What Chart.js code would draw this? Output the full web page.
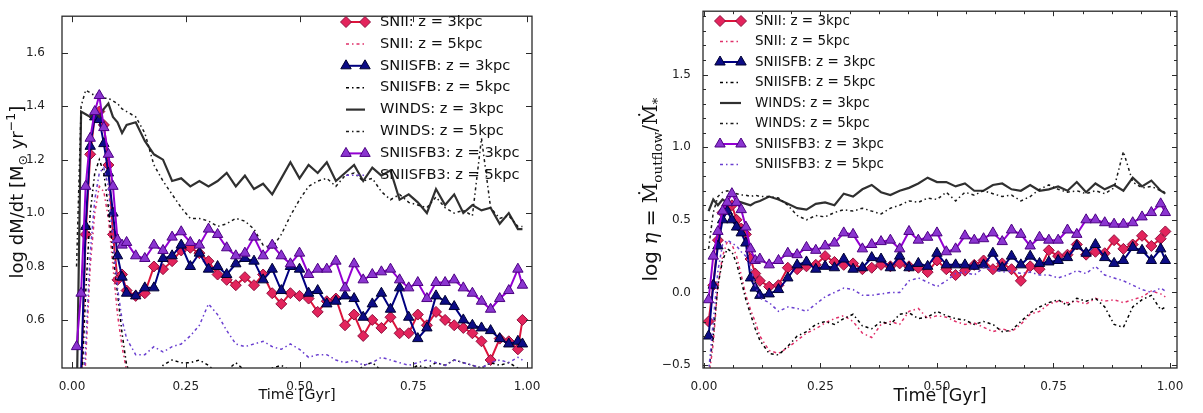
<!DOCTYPE html>
<html>
<head>
<meta charset="utf-8">
<script src="https://cdn.jsdelivr.net/npm/chart.js@4.4.0/dist/chart.umd.min.js"></script>
<style>
  html, body { margin: 0; padding: 0; background: #fff; }
  #wrap { position: relative; width: 1203px; height: 413px; }
  canvas { position: absolute; top: 0; }
  #massChart { left: 0; width: 601px; height: 413px; }
  #etaChart { left: 601px; width: 602px; height: 413px; }
</style>
</head>
<body>
<div id="wrap">
  <canvas id="massChart" width="601" height="413"></canvas>
  <canvas id="etaChart" width="602" height="413"></canvas>
</div>
<script>
// sample times (Gyr), shared by every series
const timeGyr = [0.01,0.02,0.03,0.04,0.05,0.06,0.07,0.08,0.09,0.10,0.11,0.12,
  0.14,0.16,0.18,0.20,0.22,0.24,0.26,0.28,0.30,0.32,0.34,0.36,0.38,0.40,0.42,0.44,0.46,0.48,
  0.50,0.52,0.54,0.56,0.58,0.60,0.62,0.64,0.66,0.68,0.70,0.72,0.74,0.76,0.78,0.80,0.82,0.84,
  0.86,0.88,0.90,0.92,0.94,0.96,0.98,0.99];

const seriesLabels = ['SNII: z = 3kpc', 'SNII: z = 5kpc', 'SNIISFB: z = 3kpc', 'SNIISFB: z = 5kpc',
  'WINDS: z = 3kpc', 'WINDS: z = 5kpc', 'SNIISFB3: z = 3kpc', 'SNIISFB3: z = 5kpc'];

// left panel: log dM/dt
const massSNII3 = [0.20,0.35,0.92,1.22,1.36,1.38,1.33,1.18,0.92,0.75,0.77,0.71,
  0.69,0.70,0.80,0.79,0.82,0.86,0.87,0.85,0.82,0.77, 0.75,0.73,0.76,0.73,0.77,0.70,0.66,0.70,0.69,0.68,
  0.63,0.67,0.68,0.58,0.62,0.54,0.60,0.57,0.61,0.55, 0.55,0.62,0.58,0.63,0.60,0.58,0.57,0.55,0.52,0.45,
  0.53,0.52,0.49, 0.60];
const massSNII5 = [-0.20,0.10,0.45,0.80,1.00,1.10,1.08,0.98,0.80,0.62,0.50,0.41,
  0.36,0.34,0.35,0.38,0.37,0.40,0.38,0.36,0.35,0.33, 0.34,0.36,0.35,0.33,0.34,0.37,0.36,0.35,0.37,0.36,
  0.34,0.33,0.35,0.34,0.32,0.33,0.35,0.37,0.38,0.39, 0.40,0.38,0.39,0.41,0.40,0.39,0.40,0.38,0.39,0.40,
  0.41,0.39,0.38, 0.38];
const massSNIISFB3 = [0.20,0.40,0.95,1.25,1.36,1.35,1.26,1.15,1.00,0.84,0.76,0.70,
  0.69,0.72,0.72,0.83,0.84,0.88,0.80,0.85,0.79,0.80, 0.77,0.81,0.83,0.82,0.75,0.79,0.71,0.80,0.79,0.70,
  0.71,0.66,0.67,0.69,0.68,0.61,0.66,0.70,0.64,0.72, 0.61,0.53,0.57,0.69,0.67,0.65,0.60,0.58,0.57,0.56,
  0.53,0.51,0.52, 0.51];
const massSNIISFB5 = [0.00,0.30,0.70,1.00,1.15,1.20,1.15,1.02,0.85,0.70,0.55,0.43,
  0.37,0.39,0.38,0.43,0.45,0.44,0.44,0.45,0.43,0.40, 0.41,0.44,0.41,0.39,0.40,0.42,0.43,0.41,0.40,0.38,
  0.39,0.41,0.40,0.38,0.39,0.43,0.44,0.41,0.40,0.42, 0.41,0.43,0.42,0.44,0.43,0.45,0.44,0.43,0.42,0.44,
  0.43,0.44,0.42, 0.41];
const massWinds3 = [0.25,1.38,1.37,1.36,1.38,1.36,1.39,1.41,1.36,1.34,1.30,1.33,
  1.34,1.27,1.22,1.20,1.12,1.13,1.10,1.12,1.10,1.12, 1.15,1.10,1.14,1.09,1.11,1.07,1.13,1.19,1.13,1.18,
  1.15,1.19,1.12,1.15,1.18,1.12,1.17,1.14,1.16,1.05, 1.07,1.04,1.00,1.09,1.03,1.07,1.00,1.03,1.01,1.02,
  0.96,1.00,0.94, 0.94];
const massWinds5 = [0.80,1.40,1.46,1.45,1.44,1.45,1.43,1.43,1.42,1.41,1.39,1.38,
  1.36,1.30,1.18,1.12,1.07,1.02,0.98,0.98,0.97,0.95, 0.96,0.98,0.97,0.94,0.88,0.87,0.92,0.99,1.05,1.10,
  1.12,1.13,1.10,1.14,1.15,1.12,1.13,1.08,1.05,1.07, 1.04,1.03,1.02,1.06,1.02,1.00,1.01,0.99,1.28,1.02,
  0.98,0.99,0.95, 0.95];
const massSNIISFB3x3 = [0.50,0.70,1.10,1.28,1.38,1.44,1.32,1.22,1.10,0.90,0.88,0.89,
  0.84,0.83,0.88,0.86,0.91,0.93,0.89,0.88,0.94,0.92, 0.87,0.84,0.85,0.91,0.84,0.88,0.84,0.81,0.85,0.77,
  0.79,0.79,0.82,0.72,0.81,0.75,0.77,0.78,0.79,0.75, 0.72,0.74,0.68,0.74,0.74,0.75,0.72,0.70,0.67,0.64,
  0.68,0.71,0.79, 0.73];
const massSNIISFB3x5 = [0.00,0.20,0.50,0.85,1.05,1.15,1.17,1.10,0.90,0.72,0.60,0.53,
  0.47,0.47,0.50,0.48,0.50,0.51,0.54,0.58,0.66,0.62, 0.56,0.51,0.50,0.51,0.52,0.50,0.49,0.51,0.49,0.46,
  0.47,0.47,0.45,0.44,0.45,0.43,0.44,0.46,0.45,0.44, 0.43,0.44,0.45,0.44,0.43,0.45,0.44,0.43,0.42,0.44,
  0.45,0.44,0.46, 0.45];

// right panel: log eta
const etaSNII3 = [-0.20,0.05,0.36,0.55,0.60,0.60,0.50,0.44,0.40,0.23,0.13,0.08,
  0.04,0.05,0.17,0.16,0.18,0.19,0.25,0.21,0.19,0.20, 0.16,0.17,0.19,0.18,0.20,0.18,0.17,0.14,0.22,0.16,
  0.12,0.15,0.19,0.22,0.16,0.20,0.16,0.08,0.18,0.16, 0.29,0.25,0.26,0.33,0.26,0.28,0.27,0.36,0.30,0.33,
  0.39,0.32,0.37, 0.42];
const etaSNII5 = [-0.60,-0.35,0.05,0.25,0.35,0.33,0.25,0.12,-0.02,-0.12,-0.20,-0.30,
  -0.40,-0.42,-0.38,-0.33,-0.28,-0.25,-0.21,-0.18,-0.16,-0.20, -0.28,-0.31,-0.22,-0.20,-0.22,-0.13,-0.11,-0.18,-0.16,-0.17,
  -0.20,-0.22,-0.21,-0.24,-0.27,-0.25,-0.27,-0.22,-0.15,-0.13, -0.08,-0.06,-0.07,-0.06,-0.08,-0.04,-0.06,-0.05,-0.07,-0.05,
  -0.03,0.01,-0.01, -0.03];
const etaSNIISFB3 = [-0.30,0.05,0.32,0.50,0.56,0.50,0.45,0.41,0.34,0.10,0.03,-0.02,
  -0.01,0.02,0.10,0.19,0.21,0.16,0.18,0.17,0.23,0.16, 0.17,0.24,0.23,0.17,0.25,0.17,0.20,0.18,0.27,0.19,
  0.19,0.19,0.18,0.19,0.27,0.17,0.25,0.19,0.25,0.20, 0.21,0.22,0.24,0.32,0.27,0.33,0.24,0.20,0.22,0.31,
  0.29,0.22,0.30, 0.22];
const etaSNIISFB5 = [-0.55,-0.30,0.05,0.22,0.30,0.28,0.20,0.08,-0.05,-0.15,-0.25,-0.33,
  -0.42,-0.43,-0.37,-0.30,-0.27,-0.22,-0.20,-0.22,-0.18,-0.15, -0.23,-0.25,-0.20,-0.22,-0.15,-0.14,-0.18,-0.17,-0.13,-0.16,
  -0.18,-0.19,-0.22,-0.20,-0.22,-0.27,-0.26,-0.20,-0.14,-0.10, -0.07,-0.05,-0.09,-0.04,-0.06,-0.04,-0.10,-0.22,-0.24,-0.10,
  -0.05,-0.02,-0.12, -0.10];
const etaWinds3 = [0.56,0.64,0.60,0.64,0.62,0.60,0.63,0.62,0.61,0.60,0.62,0.63,
  0.66,0.64,0.61,0.58,0.57,0.61,0.62,0.60,0.68,0.66, 0.71,0.74,0.69,0.67,0.70,0.72,0.75,0.79,0.76,0.76,
  0.73,0.75,0.70,0.70,0.74,0.75,0.71,0.70,0.74,0.70, 0.71,0.73,0.70,0.76,0.69,0.75,0.71,0.74,0.70,0.79,
  0.73,0.77,0.70, 0.68];
const etaWinds5 = [0.30,0.55,0.66,0.69,0.70,0.69,0.68,0.67,0.67,0.66,0.67,0.66,
  0.66,0.65,0.60,0.53,0.50,0.53,0.52,0.55,0.57,0.56, 0.58,0.56,0.54,0.58,0.60,0.63,0.62,0.65,0.64,0.69,
  0.63,0.69,0.67,0.70,0.68,0.66,0.67,0.63,0.66,0.71, 0.74,0.71,0.69,0.70,0.68,0.70,0.68,0.72,0.97,0.76,
  0.72,0.73,0.70, 0.69];
const etaSNIISFB3x3 = [-0.05,0.25,0.42,0.56,0.62,0.68,0.62,0.57,0.45,0.30,0.22,0.23,
  0.19,0.22,0.27,0.26,0.31,0.29,0.32,0.34,0.41,0.40, 0.30,0.33,0.35,0.36,0.30,0.42,0.36,0.38,0.41,0.28,
  0.30,0.39,0.36,0.37,0.41,0.35,0.43,0.40,0.32,0.38, 0.36,0.36,0.43,0.40,0.50,0.50,0.48,0.47,0.47,0.48,
  0.52,0.55,0.61, 0.55];
const etaSNIISFB3x5 = [-0.55,-0.20,0.15,0.33,0.36,0.34,0.32,0.28,0.25,0.18,0.05,-0.04,
  -0.07,-0.13,-0.10,-0.11,-0.13,-0.08,-0.03,0.00,0.03,0.02, -0.02,-0.02,-0.01,0.00,0.00,0.08,0.10,0.07,0.04,0.08,
  0.13,0.14,0.12,0.17,0.16,0.14,0.15,0.13,0.14,0.12, 0.12,0.10,0.12,0.15,0.13,0.18,0.12,0.10,0.08,0.05,
  0.02,0.00,0.03, 0.01];

// ticks
const timeTicks = [0, 0.25, 0.5, 0.75, 1.0];
const massTicks = [0.6, 0.8, 1.0, 1.2, 1.4, 1.6];
const etaTicks = [-0.5, 0, 0.5, 1.0, 1.5];
const timeMinor = [0.0625,0.125,0.1875,0.3125,0.375,0.4375,0.5625,0.625,0.6875,0.8125,0.875,0.9375];
const etaMinor = [-0.4,-0.3,-0.2,-0.1,0.1,0.2,0.3,0.4,0.6,0.7,0.8,0.9,1.1,1.2,1.3,1.4,1.6,1.7,1.8,1.9];

// look of each series (same order as seriesLabels)
const dashDot = [3, 3, 1.5, 3];
const seriesStyles = [
  { line: '#dc143c', width: 2, marker: 'rectRot', radius: 5.5, face: '#e3245c', edge: '#8e0f3e' },
  { line: '#e0306a', width: 1.5, dash: dashDot },
  { line: '#000080', width: 2, marker: 'triangle', radius: 6, face: '#0c0c86', edge: '#000030' },
  { line: '#000000', width: 1.5, dash: dashDot },
  { line: '#303030', width: 2.2 },
  { line: '#1a1a1a', width: 1.5, dash: dashDot },
  { line: '#9400d3', width: 2, marker: 'triangle', radius: 6, face: '#8b35d0', edge: '#4b0082' },
  { line: '#6a3fd0', width: 1.5, dash: dashDot }
];

const fmtY = v => v.toFixed(1).replace('-', '\u2212');

function drawRich(ctx, parts, cx, cy) {
  ctx.save();
  ctx.translate(cx, cy);
  ctx.rotate(-Math.PI / 2);
  ctx.textBaseline = 'alphabetic';
  ctx.textAlign = 'left';
  let total = 0;
  parts.forEach(p => { ctx.font = p.font; p.w = ctx.measureText(p.t).width; total += p.w; });
  let xx = -total / 2;
  parts.forEach(p => { ctx.font = p.font; ctx.fillText(p.t, xx, (p.dy || 0) + 6); xx += p.w; });
  ctx.restore();
}

const panelDeco = {
  id: 'panelDeco',
  afterDatasetsDraw(chart, args, o) {
    const { ctx, chartArea: a, scales: { x, y } } = chart;
    ctx.save();
    ctx.strokeStyle = '#2a2a2a';
    ctx.lineWidth = 1;
    const seg = (x1, y1, x2, y2) => { ctx.beginPath(); ctx.moveTo(x1, y1); ctx.lineTo(x2, y2); ctx.stroke(); };
    const xt = (vals, len) => vals.forEach(v => {
      const p = Math.round(x.getPixelForValue(v)) + 0.5;
      seg(p, a.bottom, p, a.bottom - len); seg(p, a.top, p, a.top + len);
    });
    const yt = (vals, len) => vals.forEach(v => {
      const p = Math.round(y.getPixelForValue(v)) + 0.5;
      seg(a.left, p, a.left + len, p); seg(a.right, p, a.right - len, p);
    });
    xt(o.xMajor, o.majorLen); yt(o.yMajor, o.majorLen);
    xt(o.xMinor, o.minorLen); yt(o.yMinor, o.minorLen);
    ctx.lineWidth = 1.3;
    ctx.strokeRect(a.left, a.top, a.right - a.left, a.bottom - a.top);
    ctx.restore();
  },
  afterDraw(chart, args, o) {
    const { ctx, chartArea: a } = chart;
    const lg = o.legend;
    seriesLabels.forEach((lab, i) => {
      const s = seriesStyles[i];
      const yy = lg.y0 + i * lg.dy;
      ctx.save();
      ctx.strokeStyle = s.line;
      ctx.lineWidth = s.width;
      ctx.setLineDash(s.dash || []);
      ctx.beginPath(); ctx.moveTo(lg.x0, yy); ctx.lineTo(lg.x1, yy); ctx.stroke();
      ctx.setLineDash([]);
      if (s.marker) {
        ctx.fillStyle = s.face; ctx.strokeStyle = s.edge; ctx.lineWidth = 1;
        [lg.x0, lg.x1].forEach(px => Chart.helpers.drawPoint(ctx,
          { pointStyle: s.marker, radius: s.radius, rotation: 0, borderWidth: 1 }, px, yy));
      }
      ctx.fillStyle = '#111';
      ctx.font = lg.font;
      ctx.textBaseline = 'middle';
      ctx.fillText(lab, lg.textX, yy);
      ctx.restore();
    });
    // axis titles
    ctx.save();
    ctx.fillStyle = '#111';
    ctx.font = o.xTitleFont;
    ctx.textAlign = 'center';
    ctx.textBaseline = 'middle';
    ctx.fillText('Time [Gyr]', (a.left + a.right) / 2, o.xTitleY);
    ctx.restore();
    ctx.fillStyle = '#111';
    drawRich(ctx, o.yTitle, o.yTitleX, (a.top + a.bottom) / 2);
  }
};

function buildPanel(canvasId, series, cfg) {
  const datasets = series.map((vals, i) => {
    const s = seriesStyles[i];
    return {
      label: seriesLabels[i],
      data: timeGyr.map((t, k) => ({ x: t, y: vals[k] })),
      order: series.length - i,
      borderColor: s.line,
      borderWidth: s.width,
      borderDash: s.dash || [],
      pointStyle: s.marker || 'circle',
      pointRadius: s.marker ? s.radius : 0,
      pointBackgroundColor: s.face,
      pointBorderColor: s.edge,
      pointBorderWidth: 1,
      tension: 0,
      fill: false,
      clip: 0
    };
  });
  const tickFont = { family: 'DejaVu Sans', size: 12 };
  return new Chart(document.getElementById(canvasId), {
    type: 'line',
    data: { datasets },
    options: {
      responsive: false,
      animation: false,
      devicePixelRatio: 1,
      events: [],
      layout: { padding: { left: 0, right: cfg.padRight, top: 2, bottom: 0 } },
      plugins: { legend: { display: false }, tooltip: { enabled: false }, panelDeco: cfg.deco },
      scales: {
        x: {
          type: 'linear', min: cfg.xMin, max: cfg.xMax,
          afterBuildTicks: sc => { sc.ticks = timeTicks.map(v => ({ value: v })); },
          afterFit: sc => { sc.height = 45; },
          grid: { display: false }, border: { display: false },
          ticks: { font: tickFont, color: '#222', padding: 4, maxRotation: 0, autoSkip: false,
                   callback: v => v.toFixed(2) }
        },
        y: {
          type: 'linear', min: cfg.yMin, max: cfg.yMax,
          afterBuildTicks: sc => { sc.ticks = cfg.yTicks.map(v => ({ value: v })); },
          afterFit: sc => { sc.width = cfg.yWidth; },
          grid: { display: false }, border: { display: false },
          ticks: { font: tickFont, color: '#222', padding: cfg.yPad, autoSkip: false, callback: fmtY }
        }
      }
    },
    plugins: [panelDeco]
  });
}

buildPanel('massChart',
  [massSNII3, massSNII5, massSNIISFB3, massSNIISFB5, massWinds3, massWinds5, massSNIISFB3x3, massSNIISFB3x5],
  {
    xMin: -0.022, xMax: 1.011, yMin: 0.42, yMax: 1.737, yTicks: massTicks,
    yWidth: 62, yPad: 9, padRight: 69,
    deco: {
      xMajor: timeTicks, yMajor: massTicks, xMinor: [], yMinor: [], majorLen: 6, minorLen: 3,
      legend: { x0: 346, x1: 365, textX: 380, y0: 22, dy: 21.9, font: '14.6px "DejaVu Sans"' },
      xTitleFont: '14.5px "DejaVu Sans"', xTitleY: 395,
      yTitleX: 17,
      yTitle: [
        { t: 'log dM/dt [M', font: '18px "DejaVu Sans"' },
        { t: '\u2299', font: '12.5px "DejaVu Sans"', dy: 4 },
        { t: ' yr', font: '18px "DejaVu Sans"' },
        { t: '\u22121', font: '12.5px "DejaVu Sans"', dy: -8 },
        { t: ']', font: '18px "DejaVu Sans"' }
      ]
    }
  });

buildPanel('etaChart',
  [etaSNII3, etaSNII5, etaSNIISFB3, etaSNIISFB5, etaWinds3, etaWinds5, etaSNIISFB3x3, etaSNIISFB3x5],
  {
    xMin: -0.002, xMax: 1.015, yMin: -0.52, yMax: 1.936, yTicks: etaTicks,
    yWidth: 102, yPad: 4, padRight: 26,
    deco: {
      xMajor: timeTicks, yMajor: etaTicks, xMinor: timeMinor, yMinor: etaMinor, majorLen: 5, minorLen: 3,
      legend: { x0: 119, x1: 140, textX: 154, y0: 21, dy: 20.5, font: '13.5px "DejaVu Sans"' },
      xTitleFont: '17.5px "DejaVu Sans"', xTitleY: 396,
      yTitleX: 50,
      yTitle: [
        { t: 'log ', font: '20px "DejaVu Sans"' },
        { t: '\u03b7', font: 'italic 20px "DejaVu Serif"' },
        { t: ' = ', font: '20px "DejaVu Sans"' },
        { t: '\u1e40', font: '20px "DejaVu Serif"' },
        { t: 'outflow', font: '13.5px "DejaVu Serif"', dy: 5 },
        { t: '/', font: '20px "DejaVu Serif"' },
        { t: '\u1e40', font: '20px "DejaVu Serif"' },
        { t: '*', font: '13.5px "DejaVu Serif"', dy: 5 }
      ]
    }
  });
</script>
</body>
</html>
